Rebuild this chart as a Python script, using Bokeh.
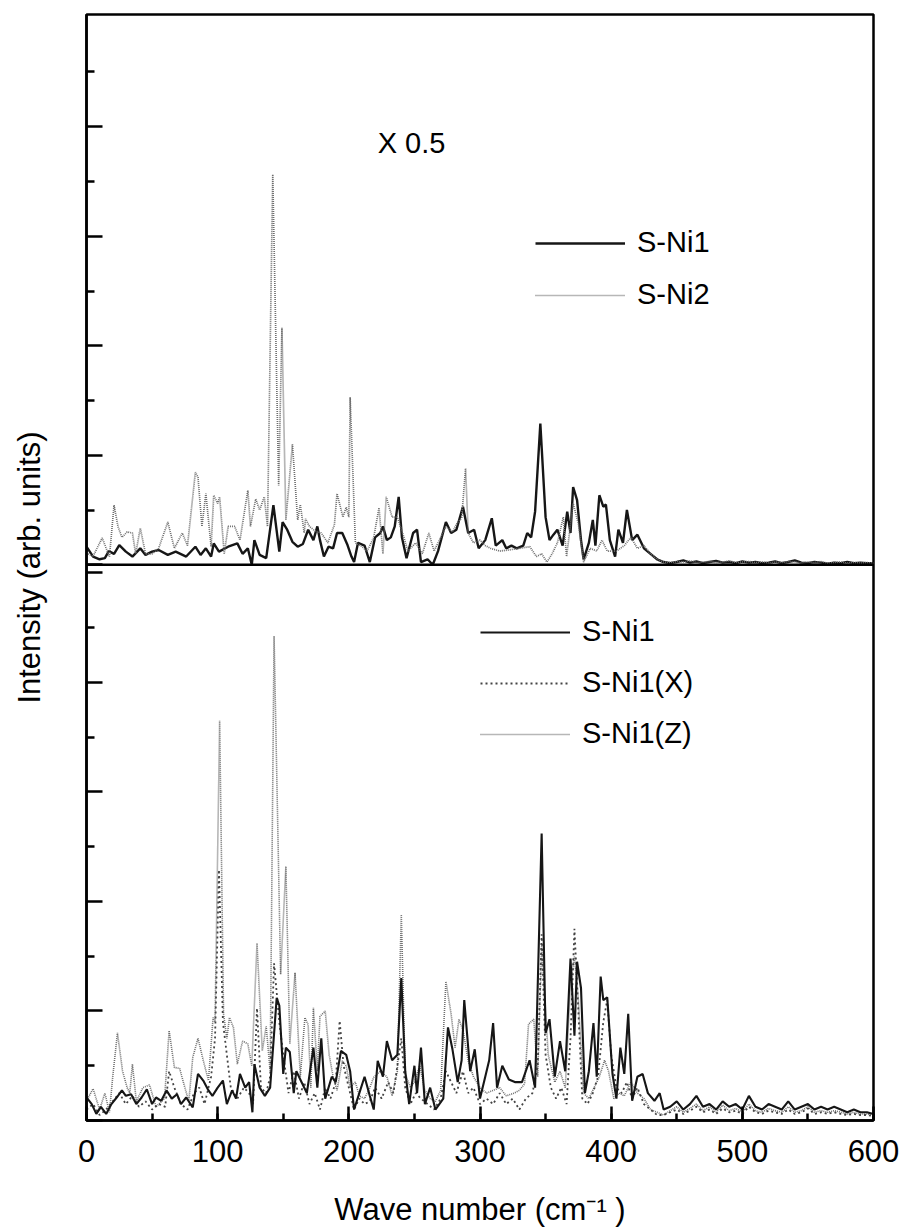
from bokeh.plotting import figure
from bokeh.models import Range1d, FixedTicker, SingleIntervalTicker, Span, Legend, LegendItem, Label
from bokeh.embed import file_html
from bokeh.resources import INLINE

# ---------------- data ----------------
TAIL_X = [445, 450, 455, 460, 465, 470, 475, 480, 485, 490, 495, 500, 505, 510, 515, 520, 525, 530,
          535, 540, 545, 550, 555, 560, 565, 570, 575, 580, 585, 590, 595, 600]

# top panel, S-Ni1 (solid)
top_ni1_x = [0, 5, 10, 14, 17, 21, 25, 30, 35, 41, 45, 50, 55, 62, 68, 76, 83, 87, 91, 95, 97, 101, 108,
             115, 119, 123, 126, 128, 132, 137, 142.5, 147, 149.5, 153, 157, 161, 165, 169, 173, 176, 178,
             181, 184.5, 188, 191, 195, 199, 202, 204, 207, 212, 216, 220, 224, 226, 229, 232, 235, 238,
             240.5, 244, 249, 252, 255, 260, 264, 268, 274, 278, 282, 287, 291, 295.5, 299, 304, 309, 312,
             317, 320, 324, 328, 333, 336, 339, 342, 346, 350, 353, 356, 359, 363, 366.5, 369, 371, 374,
             377, 379, 383, 386, 388, 391, 394, 396, 399, 403, 405.5, 409, 412, 416, 420, 425, 430, 435,
             440] + TAIL_X
top_ni1_y = [0.33, 0.15, 0.10, 0.12, 0.25, 0.20, 0.36, 0.24, 0.15, 0.30, 0.18, 0.24, 0.27, 0.18, 0.24,
             0.15, 0.33, 0.18, 0.30, 0.15, 0.39, 0.24, 0.33, 0.39, 0.20, 0.30, 0.00, 0.45, 0.18, 0.12,
             1.09, 0.24, 0.78, 0.64, 0.42, 0.33, 0.38, 0.64, 0.45, 0.70, 0.45, 0.15, 0.33, 0.30, 0.58,
             0.58, 0.36, 0.15, 0.05, 0.40, 0.35, 0.05, 0.50, 0.58, 0.70, 0.45, 0.50, 0.70, 1.24, 0.50,
             0.12, 0.58, 0.64, 0.05, 0.10, 0.00, 0.25, 0.78, 0.58, 0.64, 1.06, 0.58, 0.64, 0.30, 0.45,
             0.85, 0.35, 0.45, 0.30, 0.35, 0.30, 0.35, 0.58, 0.50, 0.97, 2.58, 0.87, 0.45, 0.55, 0.64,
             0.35, 0.97, 0.58, 1.42, 1.18, 0.45, 0.10, 0.40, 0.82, 0.35, 1.27, 1.06, 1.10, 0.45, 0.15,
             0.64, 0.40, 1.00, 0.45, 0.55, 0.30, 0.20, 0.10, 0.05,
             0.03, 0.05, 0.08, 0.04, 0.06, 0.03, 0.05, 0.07, 0.04, 0.05, 0.03, 0.06, 0.04, 0.05, 0.03,
             0.04, 0.06, 0.03, 0.05, 0.08, 0.04, 0.03, 0.05, 0.04, 0.02, 0.04, 0.03, 0.05, 0.03, 0.04,
             0.03, 0.03]

# top panel, S-Ni2 (dotted)
top_ni2_x = [0, 5, 8, 12, 15, 17.5, 21, 24, 27, 31, 35, 37.5, 41, 45, 50, 55, 62, 67, 73, 77, 83, 85, 88,
             91, 95, 97, 100, 101.5, 105, 108, 113, 117, 123, 125, 129, 132, 135.5, 138, 142, 146.5, 149,
             152, 157, 161, 163, 166, 167, 170, 174, 179, 184, 189, 191, 195.5, 198, 200, 201, 205, 209,
             214, 219, 223, 226, 228.5, 233, 237, 242, 245, 251, 256, 261, 265, 269, 274, 279, 283, 286,
             289, 291, 295, 300, 304, 308, 315, 322, 330, 338, 343, 347, 351, 355, 359, 363.5, 366, 371,
             375, 379, 384, 389, 393, 397, 404, 410, 415, 420, 425, 430, 435, 440] + TAIL_X
top_ni2_y = [0.22, 0.15, 0.30, 0.49, 0.30, 0.15, 1.09, 0.70, 0.50, 0.60, 0.58, 0.20, 0.67, 0.20, 0.20,
             0.30, 0.78, 0.30, 0.58, 0.35, 1.69, 1.60, 0.70, 1.30, 0.33, 1.27, 1.12, 1.24, 0.20, 0.70,
             0.70, 0.45, 1.36, 0.70, 1.20, 1.00, 1.24, 0.70, 7.13, 1.45, 4.33, 0.82, 2.20, 0.82, 1.10,
             0.58, 0.84, 0.70, 0.62, 0.58, 0.40, 0.73, 1.30, 0.87, 1.05, 0.87, 3.06, 0.40, 0.35, 0.25,
             0.50, 1.04, 0.20, 1.24, 0.87, 0.87, 0.50, 0.25, 0.40, 0.20, 0.58, 0.25, 0.45, 0.70, 0.60,
             0.78, 0.85, 1.76, 0.58, 0.40, 0.45, 0.35, 0.30, 0.25, 0.27, 0.30, 0.33, 0.15, 0.20, 0.05,
             0.20, 0.40, 0.87, 0.15, 1.12, 0.75, 0.05, 0.30, 0.25, 0.45, 0.25, 0.25, 0.35, 0.50, 0.30,
             0.35, 0.20, 0.10, 0.05,
             0.04, 0.06, 0.05, 0.07, 0.04, 0.05, 0.06, 0.04, 0.05, 0.07, 0.04, 0.05, 0.06, 0.04, 0.05,
             0.03, 0.05, 0.04, 0.06, 0.05, 0.03, 0.05, 0.04, 0.06, 0.03, 0.04, 0.05, 0.03, 0.04, 0.03,
             0.04, 0.03]

BTAIL_X = [445, 450, 455, 460, 465, 470, 475, 480, 485, 490, 495, 500, 505, 510, 515, 520, 525, 530,
           535, 540, 545, 550, 555, 560, 565, 570, 575, 580, 585, 590, 595, 600]

# bottom panel, S-Ni1 (solid)
bot_ni1_x = [0, 4, 7.5, 11, 15, 19, 23, 27, 30, 34, 38, 42, 46, 50, 53, 57, 61, 65, 69, 72, 76, 81, 85,
             89, 93, 96, 100, 104, 107, 111, 114, 117, 121, 124, 126.5, 128, 132, 136, 140, 145, 147, 150,
             152, 155, 158, 160, 164, 168, 173, 176, 179, 182, 187, 190, 194, 198, 201, 204, 208, 212, 216,
             219, 222, 226, 229, 233, 237, 240, 243, 246, 250, 252, 255, 258, 262, 266, 272, 275.6, 279,
             283, 286, 288, 292.5, 296, 300, 304, 307, 310, 313, 317, 322, 327, 332, 337.8, 342, 347, 350,
             353, 357, 361, 365, 369, 372, 374, 377, 380, 383, 386.5, 389, 392, 394, 397, 401, 404, 407,
             410, 413, 416, 420, 424, 428, 433, 437, 440] + BTAIL_X
bot_ni1_y = [0.42, 0.30, 0.12, 0.25, 0.12, 0.30, 0.42, 0.55, 0.45, 0.48, 0.30, 0.42, 0.57, 0.30, 0.42,
             0.36, 0.55, 0.40, 0.48, 0.30, 0.42, 0.24, 0.85, 0.73, 0.55, 0.45, 0.60, 0.73, 0.30, 0.55,
             0.40, 0.85, 0.60, 0.70, 0.15, 1.03, 0.60, 0.45, 0.60, 2.24, 2.10, 0.85, 1.33, 1.25, 0.50,
             0.90, 0.70, 0.50, 1.33, 0.60, 1.50, 0.40, 0.80, 0.70, 1.27, 1.20, 0.90, 0.20, 0.50, 0.80,
             0.45, 0.20, 1.09, 0.80, 1.45, 1.10, 1.20, 2.60, 0.90, 0.30, 1.00, 0.50, 1.33, 0.30, 0.60,
             0.20, 0.40, 1.70, 1.30, 0.70, 1.10, 2.20, 0.90, 1.30, 0.40, 0.80, 1.10, 1.78, 0.60, 1.00,
             0.75, 0.70, 0.70, 1.10, 0.60, 5.24, 1.60, 1.85, 0.80, 1.45, 0.90, 2.96, 1.55, 2.90, 2.42,
             0.50, 0.90, 1.78, 0.80, 2.63, 2.20, 2.25, 0.85, 0.40, 1.33, 0.85, 1.95, 0.36, 0.80, 0.85,
             0.50, 0.36, 0.50, 0.20,
             0.25, 0.35, 0.20, 0.30, 0.45, 0.25, 0.30, 0.20, 0.35, 0.25, 0.30, 0.20, 0.45, 0.25, 0.20,
             0.30, 0.25, 0.20, 0.35, 0.20, 0.25, 0.30, 0.20, 0.25, 0.20, 0.25, 0.20, 0.15, 0.20, 0.15,
             0.15, 0.12]

# bottom panel, S-Ni1(X) (sparse dots)
bot_x_x = [0, 5, 10, 15, 20, 25, 30, 35, 40, 45, 50, 55, 60, 63, 67, 72, 77, 82, 86, 90, 95, 98, 101,
           104, 107, 110, 115, 120, 124, 127, 130, 133, 137, 140, 143, 147, 150, 154, 158, 162, 166, 170,
           174, 178, 182, 186, 190, 193, 196, 200, 204, 208, 212, 216, 220, 225, 230, 234, 237, 240, 243,
           247, 251, 255, 260, 265, 270, 274, 278, 282, 287, 291, 295, 300, 305, 310, 315, 320, 325, 330,
           335, 340, 344, 347, 350, 354, 358, 362, 366, 369, 372, 375, 378, 382, 386, 390, 394, 397, 400,
           404, 408, 412, 416, 420, 425, 430, 435, 440] + BTAIL_X
bot_x_y = [0.20, 0.30, 0.10, 0.20, 0.35, 0.50, 0.30, 0.45, 0.25, 0.35, 0.20, 0.30, 0.25, 0.90, 0.60,
           0.30, 0.20, 0.50, 0.60, 0.30, 0.80, 1.50, 4.58, 1.80, 1.20, 0.60, 0.40, 0.60, 0.50, 0.30,
           2.05, 0.60, 0.50, 0.80, 2.87, 1.80, 1.20, 0.50, 0.90, 0.40, 0.70, 0.30, 0.50, 0.20, 0.60,
           0.40, 0.70, 1.82, 1.00, 0.60, 0.20, 0.40, 0.30, 0.35, 0.60, 0.40, 0.70, 0.50, 1.00, 1.50,
           0.60, 0.30, 0.50, 0.40, 0.30, 0.20, 0.40, 0.90, 0.70, 0.50, 0.90, 0.50, 0.60, 0.30, 0.40,
           0.30, 0.50, 0.30, 0.40, 0.20, 0.40, 0.50, 1.00, 3.40, 1.20, 0.60, 0.40, 0.60, 0.30, 1.50,
           3.50, 2.00, 0.40, 0.30, 0.50, 0.80, 1.80, 2.20, 1.20, 0.60, 0.50, 0.70, 0.40, 0.60, 0.30,
           0.20, 0.10, 0.10,
           0.15, 0.20, 0.12, 0.18, 0.25, 0.15, 0.20, 0.12, 0.22, 0.15, 0.18, 0.12, 0.25, 0.15, 0.12,
           0.18, 0.15, 0.12, 0.20, 0.12, 0.15, 0.22, 0.12, 0.15, 0.12, 0.15, 0.12, 0.10, 0.12, 0.10,
           0.10, 0.08]

# bottom panel, S-Ni1(Z) (fine dots)
bot_z_x = [0, 5, 10, 14, 17.5, 20, 23.6, 27.5, 31, 33, 35, 38, 43, 48, 53, 59.5, 63, 67, 71, 75, 78, 81,
           85, 89, 93, 96.5, 98, 101.5, 104.5, 107, 109, 112, 115, 119, 123, 126, 130, 134, 137, 140, 143,
           148, 152, 155, 159, 163, 166.5, 169, 171, 173, 176, 178, 182, 185, 188, 191, 195, 198, 201,
           205, 208, 212, 216, 219, 224, 229, 233, 237, 240, 243, 247, 250, 254, 258, 262, 266, 270, 274,
           278, 281, 284, 287, 291, 295, 300, 305, 310, 315, 320, 326, 330, 334, 337, 341, 344, 347, 352,
           357, 361, 365, 369, 372, 375, 379, 383, 387, 391, 395, 398, 402, 406, 410, 415, 420, 425, 430,
           435, 440] + BTAIL_X
bot_z_y = [0.36, 0.58, 0.20, 0.50, 0.15, 0.80, 1.60, 0.90, 0.60, 0.50, 1.03, 0.35, 0.60, 0.65, 0.25,
           0.40, 1.64, 0.97, 0.95, 0.60, 0.35, 1.15, 1.50, 1.10, 0.73, 1.88, 1.80, 7.30, 1.94, 1.50,
           1.88, 1.70, 1.03, 1.45, 1.40, 1.00, 3.24, 1.27, 1.72, 0.90, 8.85, 2.67, 4.64, 1.40, 2.70,
           0.80, 1.88, 1.75, 0.60, 2.06, 0.90, 1.90, 2.00, 1.20, 0.80, 0.55, 1.09, 1.00, 0.60, 0.70,
           0.45, 0.40, 0.60, 0.79, 0.90, 0.80, 0.45, 0.90, 3.76, 0.85, 0.60, 0.70, 1.00, 0.55, 0.40,
           0.35, 0.55, 2.54, 1.94, 1.33, 1.85, 1.65, 1.09, 0.80, 0.60, 0.50, 0.55, 0.60, 0.45, 0.50,
           0.55, 0.67, 1.76, 1.85, 0.80, 3.20, 1.20, 0.70, 0.90, 0.60, 2.50, 3.00, 2.20, 0.50, 0.40,
           0.60, 0.80, 1.10, 0.90, 0.40, 0.50, 0.45, 0.70, 0.50, 0.40, 0.20, 0.15, 0.10,
           0.18, 0.25, 0.15, 0.22, 0.30, 0.18, 0.25, 0.15, 0.28, 0.18, 0.22, 0.15, 0.30, 0.18, 0.15,
           0.22, 0.18, 0.15, 0.25, 0.15, 0.18, 0.25, 0.15, 0.18, 0.15, 0.18, 0.15, 0.12, 0.15, 0.12,
           0.12, 0.10]

X_TICK_INTERVAL = 100
TOP_LABELS = ["S-Ni1", "S-Ni2"]
BOT_LABELS = ["S-Ni1", "S-Ni1(X)", "S-Ni1(Z)"]

# ---------------- figure ----------------
FONT = "Liberation Sans"
SPLIT = 10.15      # where the top panel's zero sits on the shared frame
YMAX = 20.2

p = figure(width=908, height=1232, output_backend="svg", toolbar_location=None,
           x_range=Range1d(0, 600), y_range=Range1d(0, YMAX),
           min_border_left=86, min_border_right=35, min_border_top=14, min_border_bottom=112)
p.extra_y_ranges = {"top": Range1d(-SPLIT, YMAX - SPLIT)}
p.xgrid.visible = False
p.ygrid.visible = False
p.outline_line_color = "black"
p.outline_line_width = 2.5
p.background_fill_color = "white"
p.border_fill_color = "white"

BLACK = "#161616"
GRAY = "#6e6e6e"

r_t1 = p.line(top_ni1_x, top_ni1_y, y_range_name="top", line_color=BLACK, line_width=2.4)
r_t2 = p.line(top_ni2_x, top_ni2_y, y_range_name="top", line_color=GRAY, line_width=1.7, line_dash="1 1")

r_bz = p.line(bot_z_x, bot_z_y, line_color=GRAY, line_width=1.6, line_dash="1 1")
r_bx = p.line(bot_x_x, bot_x_y, line_color="#444444", line_width=1.8, line_dash="2 3")
r_b1 = p.line(bot_ni1_x, bot_ni1_y, line_color=BLACK, line_width=2.1)

p.add_layout(Span(location=SPLIT, dimension="width", line_color="black", line_width=2.5))

# x axis
xa = p.xaxis[0]
xa.ticker = SingleIntervalTicker(interval=X_TICK_INTERVAL, num_minor_ticks=2)
xa.axis_line_width = 2.5
xa.major_tick_line_width = 2.5
xa.minor_tick_line_width = 2.5
xa.major_tick_in = 14
xa.major_tick_out = 0
xa.minor_tick_in = 7
xa.minor_tick_out = 0
xa.major_label_text_font = FONT
xa.major_label_text_font_size = "31px"
xa.major_label_text_color = "black"
xa.major_label_standoff = 19
xa.axis_label = "Wave number (cm\u207b\u00b9 )"
xa.axis_label_text_font = FONT
xa.axis_label_text_font_size = "31px"
xa.axis_label_text_font_style = "normal"
xa.axis_label_text_color = "black"
xa.axis_label_standoff = 27

# y axis (no tick labels, inward ticks for both panels)
bot_major = [0, 2, 4, 6, 8, 10]
bot_minor = [1, 3, 5, 7, 9]
top_major = [0, 2, 4, 6, 8]
top_minor = [1, 3, 5, 7, 9]
y_major = bot_major + [SPLIT + v for v in top_major]
ya = p.yaxis[0]
ya.ticker = FixedTicker(ticks=y_major,
                        minor_ticks=bot_minor + [SPLIT + v for v in top_minor])
ya.axis_line_width = 2.5
ya.major_tick_line_width = 2.5
ya.minor_tick_line_width = 2.5
ya.major_tick_in = 16
ya.major_tick_out = 0
ya.minor_tick_in = 8
ya.minor_tick_out = 0
ya.major_label_overrides = {t: "" for t in y_major}
ya.major_label_standoff = 0
ya.axis_label = "Intensity (arb. units)"
ya.axis_label_text_font = FONT
ya.axis_label_text_font_size = "31px"
ya.axis_label_text_font_style = "normal"
ya.axis_label_text_color = "black"
ya.axis_label_standoff = 40

# legends
leg_common = dict(border_line_color=None, background_fill_alpha=0, padding=0, margin=0,
                  spacing=19, glyph_width=90, glyph_height=30, label_height=30, label_standoff=12,
                  label_text_font=FONT, label_text_font_size="29px", label_text_color="black")
top_leg = Legend(items=[LegendItem(label=TOP_LABELS[0], renderers=[r_t1]),
                        LegendItem(label=TOP_LABELS[1], renderers=[r_t2])],
                 location=(449, 809), **leg_common)
bot_leg = Legend(items=[LegendItem(label=BOT_LABELS[0], renderers=[r_b1]),
                        LegendItem(label=BOT_LABELS[1], renderers=[r_bx]),
                        LegendItem(label=BOT_LABELS[2], renderers=[r_bz])],
                 location=(394, 370), **{**leg_common, "spacing": 18})
p.add_layout(top_leg)
p.add_layout(bot_leg)

p.add_layout(Label(x=222, y=7.7, y_range_name="top", text="X 0.5", text_font=FONT,
                   text_font_size="29px", text_baseline="middle", text_color="black"))

open("out.html", "w").write(file_html(p, INLINE))
